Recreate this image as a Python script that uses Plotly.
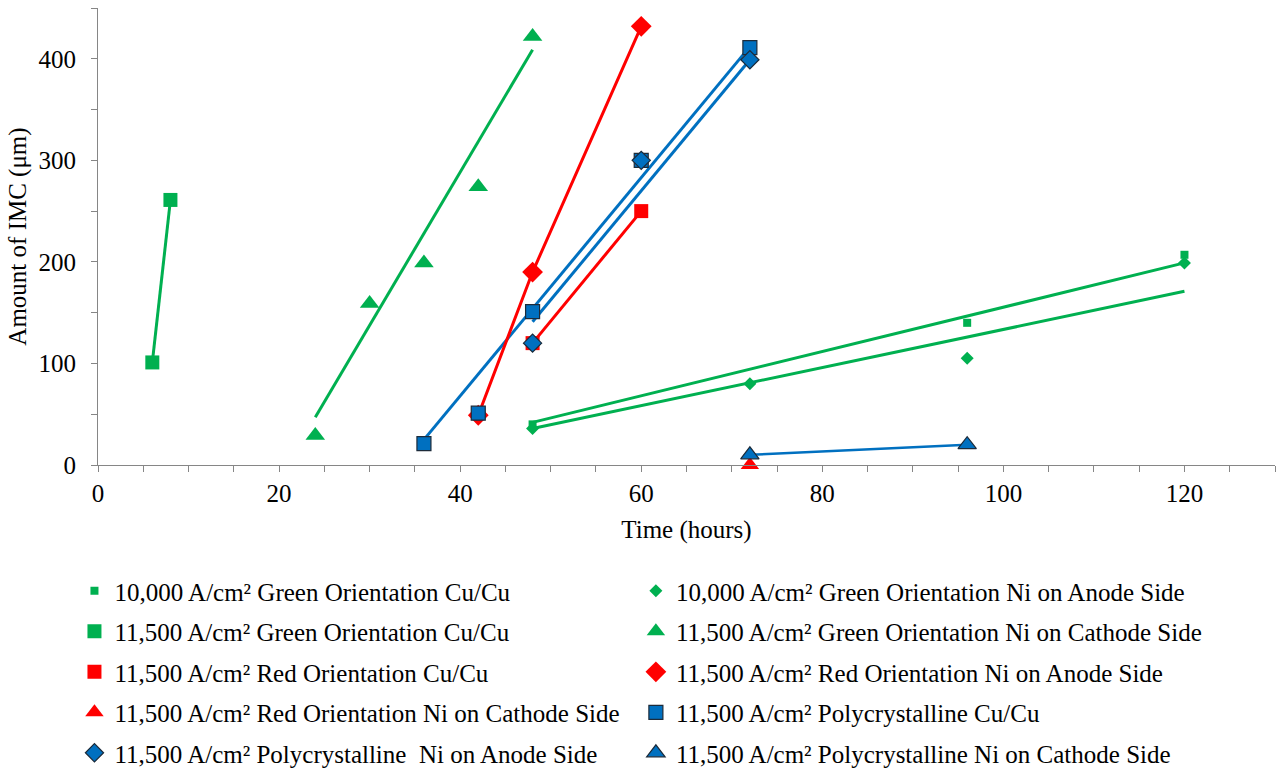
import plotly.graph_objects as go

# ---------------- data ----------------
# 10,000 A/cm2 Green Orientation Cu/Cu
g10_cu_x = [48, 96, 120]
g10_cu_y = [40, 140, 207]
# 10,000 A/cm2 Green Orientation Ni on Anode Side
g10_nian_x = [48, 72, 96, 120]
g10_nian_y = [36, 80, 105, 199]
# 11,500 A/cm2 Green Orientation Cu/Cu
g115_cu_x = [6, 8]
g115_cu_y = [101, 261]
# 11,500 A/cm2 Green Orientation Ni on Cathode Side
g115_nica_x = [24, 30, 36, 42, 48]
g115_nica_y = [29, 159, 199, 274, 422]
# 11,500 A/cm2 Red Orientation Cu/Cu
r_cu_x = [48, 60]
r_cu_y = [120, 250]
# 11,500 A/cm2 Red Orientation Ni on Anode Side
r_nian_x = [42, 48, 60]
r_nian_y = [49, 190, 432]
# 11,500 A/cm2 Red Orientation Ni on Cathode Side
r_nica_x = [72]
r_nica_y = [0]
# 11,500 A/cm2 Polycrystalline Cu/Cu
p_cu_x = [36, 42, 48, 60, 72]
p_cu_y = [21, 51, 151, 300, 411]
# 11,500 A/cm2 Polycrystalline Ni on Anode Side
p_nian_x = [48, 60, 72]
p_nian_y = [120, 300, 399]
# 11,500 A/cm2 Polycrystalline Ni on Cathode Side
p_nica_x = [72, 96]
p_nica_y = [10, 20]

# trend lines as drawn in the reference (end values)
g10_cu_fit_x = [48, 120]
g10_cu_fit_y = [42, 199]
g10_nian_fit_x = [48, 120]
g10_nian_fit_y = [36, 171]
g115_nica_fit_x = [24, 48]
g115_nica_fit_y = [47, 409]
p_cu_fit_x = [36, 72]
p_cu_fit_y = [25, 412]
p_nian_fit_x = [48, 72]
p_nian_fit_y = [141, 399]

# ---------------- style ----------------
GREEN = "#00B050"
RED = "#FF0000"
BLUE = "#0070C0"
EDGE = "#1C2B3A"
AXIS = "#868686"
FONT = "Liberation Serif"

fig = go.Figure()


def line(x, y, color, width=3):
    fig.add_trace(go.Scatter(x=x, y=y, mode="lines", showlegend=False,
                             hoverinfo="skip",
                             line=dict(color=color, width=width)))


# lines (drawn beneath markers)
line(g10_cu_fit_x, g10_cu_fit_y, GREEN)
line(g10_nian_fit_x, g10_nian_fit_y, GREEN)
line(g115_cu_x, g115_cu_y, GREEN)
line(g115_nica_fit_x, g115_nica_fit_y, GREEN)
line(p_cu_fit_x, p_cu_fit_y, BLUE)
line(p_nian_fit_x, p_nian_fit_y, BLUE)
line(p_nica_x, p_nica_y, BLUE, 2.5)
line(r_cu_x, r_cu_y, RED)
line(r_nian_x, r_nian_y, RED)


def pts(x, y, name, symbol, size, color, legend, edge=False, clip=True):
    fig.add_trace(go.Scatter(
        x=x, y=y, mode="markers", name=name, legend=legend,
        legendgroup=name, cliponaxis=clip,
        marker=dict(symbol=symbol, size=size, color=color,
                    line=dict(color=EDGE, width=1.2 if edge else 0))))


pts(g10_cu_x, g10_cu_y, "10,000 A/cm² Green Orientation Cu/Cu", "square", 8, GREEN, "legend")
pts(g10_nian_x, g10_nian_y, "10,000 A/cm² Green Orientation Ni on Anode Side", "diamond", 10, GREEN, "legend2")
pts(g115_cu_x, g115_cu_y, "11,500 A/cm² Green Orientation Cu/Cu", "square", 14, GREEN, "legend")
pts(g115_nica_x, g115_nica_y, "11,500 A/cm² Green Orientation Ni on Cathode Side", "triangle-up", 17, GREEN, "legend2")
pts(r_cu_x, r_cu_y, "11,500 A/cm² Red Orientation Cu/Cu", "square", 14, RED, "legend")
pts(r_nian_x, r_nian_y, "11,500 A/cm² Red Orientation Ni on Anode Side", "diamond", 16, RED, "legend2")
pts(r_nica_x, r_nica_y, "11,500 A/cm² Red Orientation Ni on Cathode Side", "triangle-up", 16, RED, "legend", clip=False)
pts(p_cu_x, p_cu_y, "11,500 A/cm² Polycrystalline Cu/Cu", "square", 14, BLUE, "legend2", edge=True)
pts(p_nian_x, p_nian_y, "11,500 A/cm² Polycrystalline\u00a0 Ni on Anode Side", "diamond", 14, BLUE, "legend", edge=True)
pts(p_nica_x, p_nica_y, "11,500 A/cm² Polycrystalline Ni on Cathode Side", "triangle-up", 16, BLUE, "legend2", edge=True, clip=False)

legend_common = dict(
    orientation="v", xanchor="left", yanchor="top",
    xref="paper", yref="container",
    traceorder="grouped", tracegroupgap=5,
    font=dict(family=FONT, size=25, color="black"),
    bgcolor="rgba(0,0,0,0)", itemwidth=30,
)

fig.update_layout(
    width=1281, height=770,
    margin=dict(l=98, r=6, t=8, b=305),
    paper_bgcolor="white", plot_bgcolor="white",
    font=dict(family=FONT, color="black"),
    showlegend=True,
    legend=dict(x=-0.020, y=0.2623, **legend_common),
    legend2=dict(x=0.457, y=0.2623, **legend_common),
    xaxis=dict(
        range=[0, 130], tick0=0, dtick=20, showgrid=False, zeroline=False,
        showline=True, linecolor=AXIS, linewidth=1,
        ticks="outside", ticklen=6, tickcolor=AXIS, tickwidth=1,
        minor=dict(dtick=5, ticks="outside", ticklen=6, tickcolor=AXIS, tickwidth=1, showgrid=False),
        tickfont=dict(family=FONT, size=25, color="black"),
        ticklabelstandoff=0,
        title=dict(text="Time (hours)", font=dict(family=FONT, size=25, color="black"), standoff=14),
    ),
    yaxis=dict(
        range=[0, 450], tick0=0, dtick=100, showgrid=False, zeroline=False,
        showline=True, linecolor=AXIS, linewidth=1,
        ticks="outside", ticklen=6, tickcolor=AXIS, tickwidth=1,
        minor=dict(dtick=50, ticks="outside", ticklen=6, tickcolor=AXIS, tickwidth=1, showgrid=False),
        tickfont=dict(family=FONT, size=25, color="black"),
        ticklabelstandoff=10,
        title=dict(text="Amount of IMC (μm)", font=dict(family=FONT, size=25, color="black"), standoff=4),
    ),
)

fig.write_html("out.html")
